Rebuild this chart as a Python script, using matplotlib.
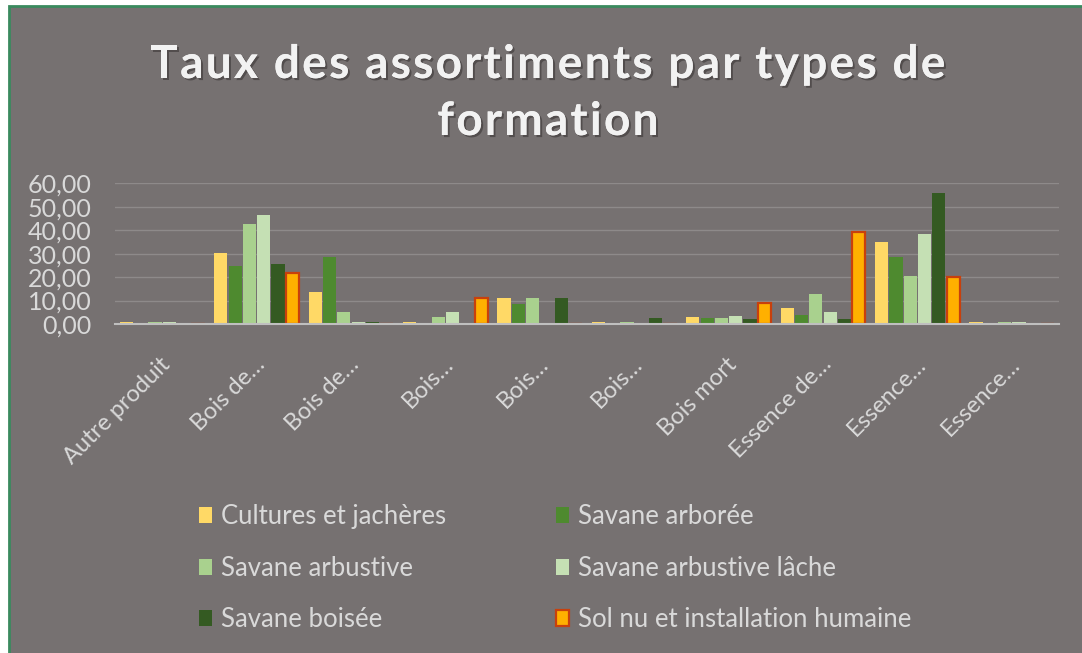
import numpy as np
import matplotlib
matplotlib.use("Agg")
import matplotlib.pyplot as plt
from matplotlib.patches import Rectangle
from matplotlib import patheffects as pe
from matplotlib.font_manager import FontProperties
import matplotlib.transforms as mtransforms

categories = ["Autre produit", "Bois de…", "Bois de…", "Bois…", "Bois…",
              "Bois…", "Bois mort", "Essence de…", "Essence…", "Essence…"]
series_names = ["Cultures et jachères", "Savane arborée", "Savane arbustive",
                "Savane arbustive lâche", "Savane boisée",
                "Sol nu et installation humaine"]
cultures = [0.8, 30.4, 13.5, 1.0, 11.2, 1.0, 2.8, 6.7, 35.1, 1.0]
arboree = [0.0, 24.7, 28.4, 0.3, 8.4, 0.3, 2.5, 4.0, 28.4, 0.5]
arbustive = [0.7, 42.6, 5.0, 2.8, 11.2, 1.0, 2.7, 12.8, 20.5, 1.0]
lache = [0.8, 46.5, 1.0, 5.0, 0.0, 0.3, 3.6, 5.0, 38.2, 1.0]
boisee = [0.0, 25.4, 0.8, 0.5, 11.2, 2.5, 2.1, 2.0, 56.0, 0.0]
solnu = [0.0, 21.6, 0.0, 11.0, 0.0, 0.0, 8.8, 39.4, 19.9, 0.0]
yticks = [0, 10, 20, 30, 40, 50, 60]
title_lines = ["Taux des assortiments par types de", "formation"]

series = [cultures, arboree, arbustive, lache, boisee, solnu]
colors = ["#FFD966", "#4E8A2F", "#A9D18E", "#C5E0B4", "#345A22", "#FFB000"]
edges = [None, None, None, None, None, "#C8400C"]

BG = "#767171"
TXT = "#D9D9D9"
FONT = "Lato"
W, H = 1082, 653

fig = plt.figure(figsize=(W / 100, H / 100), dpi=100, facecolor="white")
fig.patches.append(Rectangle((9 / W, -0.01), 1.0, (H - 6) / H + 0.01,
                             transform=fig.transFigure, facecolor=BG,
                             edgecolor="#3A8A5E", linewidth=2.0, zorder=-10))

ax = fig.add_axes([115 / W, (H - 324) / H, 944 / W, 140.7 / H])
ax.set_facecolor("none")

n = len(series)
w = 1 / 6.6
x = np.arange(len(categories))
for i, (vals, c, ec) in enumerate(zip(series, colors, edges)):
    kw = {}
    if ec:
        kw = dict(edgecolor=ec, linewidth=1.6)
    ax.bar(x + (i - (n - 1) / 2) * w, vals, width=w * 0.92, color=c,
           label=series_names[i], zorder=3, **kw)

ax.set_xlim(-0.5, len(categories) - 0.5)
ax.set_ylim(0, 60)
ax.set_yticks(yticks)
ax.set_yticklabels([f"{v:.2f}".replace(".", ",") for v in yticks],
                   fontsize=18, color=TXT, family=FONT)
ax.tick_params(axis="y", length=0, pad=17)
ax.grid(axis="y", color="#8E8A8A", linewidth=1.0, zorder=0)
for s in ["top", "right", "left"]:
    ax.spines[s].set_visible(False)
ax.spines["bottom"].set_color("#BFBFBF")
ax.spines["bottom"].set_linewidth(1.5)
ax.spines["bottom"].set_zorder(4)

ax.set_xticks(x)
ax.set_xticklabels([])
ax.tick_params(axis="x", length=0)
offset = mtransforms.ScaledTranslation(5 / 100, -37 / 100, fig.dpi_scale_trans)
for xi, lab in zip(x, categories):
    ax.text(xi, 0, lab, rotation=45, rotation_mode="anchor", ha="right",
            va="center", fontsize=17, color=TXT, family=FONT,
            transform=ax.get_xaxis_transform() + offset)

# Title with letter spacing
fp = FontProperties(family=FONT, weight="bold", size=33)
renderer = fig.canvas.get_renderer()
bar_w = renderer.get_text_width_height_descent("|", fp, ismath=False)[0]


def adv(sub):
    return renderer.get_text_width_height_descent(sub + "|", fp, ismath=False)[0] - bar_w


shadow = [pe.withSimplePatchShadow(offset=(1.5, -1.5), shadow_rgbFace="#3a3636", alpha=0.6), pe.Normal()]
line1 = title_lines[0]
base_w = adv(line1)
spacing = (795 - base_w) / (len(line1) - 1)
for line, base_y in zip(title_lines, [78, 135]):
    total = adv(line) + spacing * (len(line) - 1)
    x0 = 548 - total / 2
    for k, ch in enumerate(line):
        if ch == " ":
            continue
        px = x0 + adv(line[:k]) + spacing * k
        fig.text(px / W, 1 - base_y / H, ch, ha="left", va="baseline",
                 fontproperties=fp, color="#F2F2F2", path_effects=shadow)

handles, labels = ax.get_legend_handles_labels()
order = [0, 2, 4, 1, 3, 5]
leg = fig.legend([handles[i] for i in order], [labels[i] for i in order],
                 loc="upper left", bbox_to_anchor=(199 / W, 1 - 504 / H), ncol=2,
                 frameon=False, labelcolor=TXT,
                 prop={"family": FONT, "size": 18.5},
                 borderpad=0, borderaxespad=0,
                 handlelength=0.5, handleheight=0.58, handletextpad=0.34,
                 columnspacing=4.3, labelspacing=1.04)

fig.savefig("out.png", dpi=100, facecolor=fig.get_facecolor())
